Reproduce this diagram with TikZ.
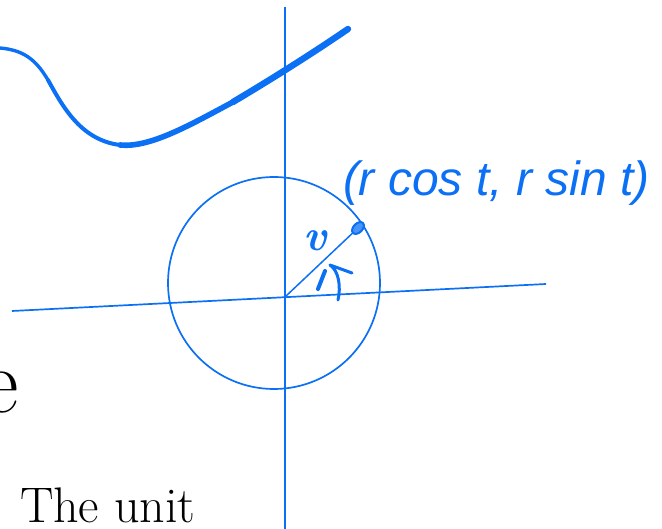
\documentclass[tikz,border=0pt]{standalone}
\usepackage{fontspec}
\usetikzlibrary{shapes.geometric}
\newfontfamily\hand{Liberation Sans}
\definecolor{ink}{RGB}{12,112,245}
\begin{document}
\begin{tikzpicture}[x=1pt,y=-1pt,
  thinline/.style={draw=ink,line width=1.7pt},
  penline/.style={draw=ink,line cap=round,line join=round},
  lbl/.style={inner sep=0pt,outer sep=0pt}]
\useasboundingbox (0,0) rectangle (662,529);
% axes
\coordinate (vtop) at (285,7);
\coordinate (vbot) at (285,529);
\coordinate (hl) at (12,311);
\coordinate (hr) at (546,284);
\coordinate (O) at (285,297);
\coordinate (C) at (274,283);
\draw[thinline] (vtop) -- (vbot);
\draw[thinline] (hl) -- (hr);
\draw[thinline] (C) circle (106);
% curve
\coordinate (c0) at (0,48);
\coordinate (c1) at (48,80);
\coordinate (c2) at (120,145);
\coordinate (c3) at (233,102);
\coordinate (c4) at (348,29);
\draw[penline,line width=3.4pt] (c0) .. controls (22,50) and (35,58) .. (c1);
\draw[penline,line width=4pt] (c1) .. controls (62,105) and (80,140) .. (c2);
\draw[penline,line width=5.6pt] (c2) .. controls (150,148) and (190,125) .. (c3);
\draw[penline,line width=6.4pt] (c3) .. controls (270,80) and (310,55) .. (c4);
% radius and point
\draw[draw=ink,line width=1.5pt] (O) -- (358,228);
\node[draw=ink,fill=ink!75,ellipse,minimum width=14pt,minimum height=9pt,inner sep=0pt,rotate=45,line width=2pt] (P) at (358,228) {};
% angle mark
\coordinate (a0) at (338,300);
\coordinate (a1) at (330,265);
\coordinate (a2) at (352,273);
\coordinate (t0) at (318,289);
\coordinate (t1) at (325,271);
\draw[penline,line width=3pt] (a0) .. controls (341,287) and (339,271) .. (a1) -- (a2);
\draw[penline,line width=4pt] (t0) -- (t1);
% labels
\node[lbl,text=ink,font=\fontsize{44}{44}\selectfont\itshape\bfseries,anchor=base] (v) at (315,251) {v};
\node[lbl,text=ink,font=\hand\fontsize{48}{48}\selectfont\itshape,anchor=base west] (lab) at (343,196) {(r cos t, r sin t)};
\node[lbl,font=\fontsize{92}{92}\selectfont,anchor=base east] (e) at (19,413) {e};
\node[lbl,font=\fontsize{50}{50}\selectfont,anchor=base west] (unit) at (20,522) {The unit};
\end{tikzpicture}
\end{document}
